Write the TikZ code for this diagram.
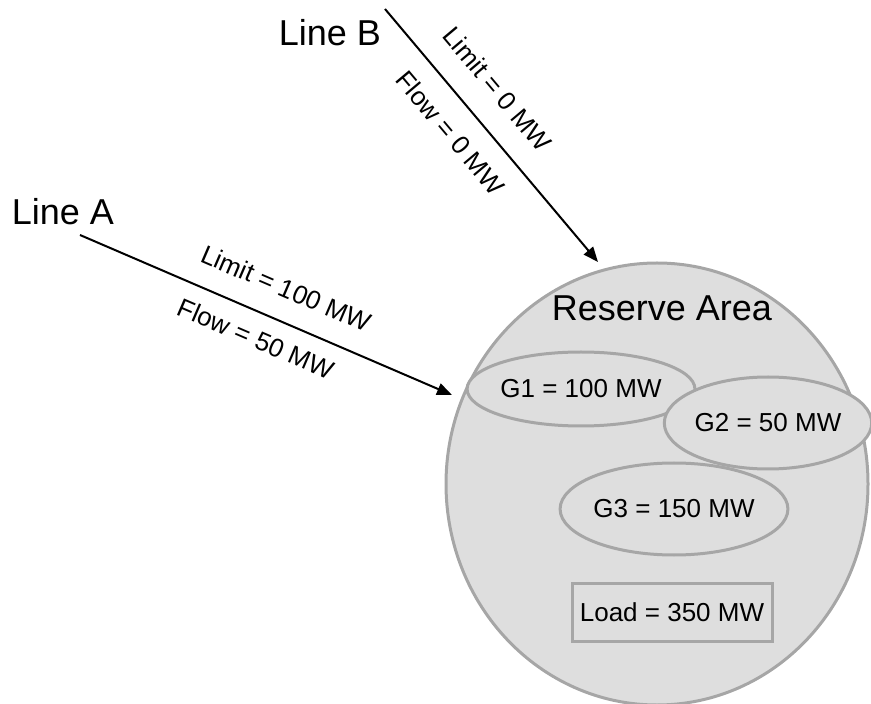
\documentclass[tikz,border=0pt]{standalone}
\usepackage{fontspec}
\setmainfont{Liberation Sans}
\usetikzlibrary{arrows.meta,positioning,shapes.geometric}

\begin{document}
\begin{tikzpicture}[x=.5pt,y=-.5pt,
  zone/.style={draw=black!35,line width=1.5pt,fill=black!13},
  gen/.style={zone,ellipse,inner sep=0pt,font=\fontsize{13}{15}\selectfont},
  feed/.style={-{Triangle[length=7.5pt,width=6pt]},line width=1pt},
  tag/.style={font=\fontsize{13}{15}\selectfont,inner sep=0pt,sloped},
  big/.style={font=\fontsize{18}{20}\selectfont}]
\useasboundingbox (0,0) rectangle (871,704);
% reserve area and its units
\node[zone,ellipse,minimum width=211pt,minimum height=221pt] (area) at (657,484) {};
\node[big] (title) at (662,308) {Reserve Area};
\node[gen,minimum width=103pt,minimum height=37pt] (g1) at (581,389) {G1 = 100 MW};
\node[gen,minimum width=100pt,minimum height=46pt] (g2) at (768,423) {G2 = 50 MW};
\node[gen,minimum width=103pt,minimum height=46pt] (g3) at (674,509) {G3 = 150 MW};
\node[zone,inner sep=0pt,minimum width=100pt,minimum height=29pt,
  font=\fontsize{13}{15}\selectfont] (load) at (672,612) {Load = 350 MW};
% tie lines
\node[big] (lineA) at (63,212) {Line A};
\node[big] (lineB) at (330,33) {Line B};
\coordinate (a0) at (80,235);
\coordinate (a1) at (452,395);
\coordinate (b0) at (385,9);
\coordinate (b1) at (598,262);
\draw[feed] (a0) -- (a1)
  node[tag,pos=.52,above=11pt] {Limit = 100 MW}
  node[tag,pos=.50,below=7.5pt] {Flow = 50 MW};
\draw[feed] (b0) -- (b1)
  node[tag,pos=.405,above=12pt] {Limit = 0 MW}
  node[tag,pos=.415,below=9.5pt] {Flow = 0 MW};
\end{tikzpicture}
\end{document}
